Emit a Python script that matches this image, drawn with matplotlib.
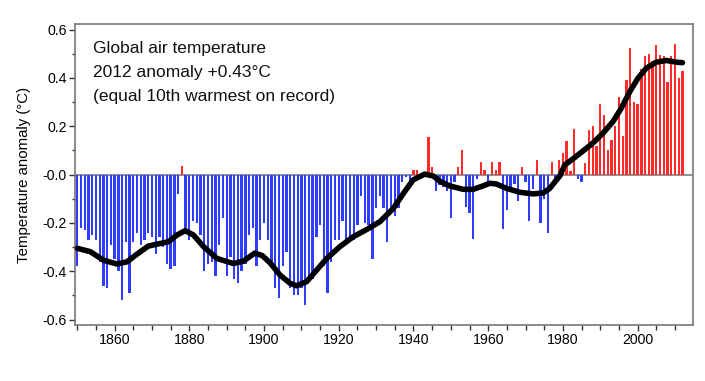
import numpy as np
import matplotlib
matplotlib.use('Agg')
import matplotlib.pyplot as plt
from matplotlib.ticker import MultipleLocator, FixedLocator

plt.rcParams['font.family'] = ['Liberation Sans', 'DejaVu Sans']

# annual anomalies, 1850-2012
years = np.arange(1850, 2013)
anomaly = [
    -0.38, -0.22, -0.23, -0.27, -0.25, -0.27, -0.36, -0.46, -0.47, -0.29,   # 1850s
    -0.35, -0.40, -0.52, -0.28, -0.49, -0.28, -0.24, -0.29, -0.27, -0.24,   # 1860s
    -0.26, -0.33, -0.26, -0.30, -0.37, -0.39, -0.38, -0.08, 0.035, -0.22,   # 1870s
    -0.27, -0.19, -0.20, -0.25, -0.40, -0.37, -0.36, -0.42, -0.29, -0.18,   # 1880s
    -0.42, -0.34, -0.43, -0.45, -0.40, -0.37, -0.25, -0.22, -0.38, -0.27,   # 1890s
    -0.20, -0.27, -0.38, -0.47, -0.51, -0.38, -0.32, -0.47, -0.50, -0.50,   # 1900s
    -0.47, -0.54, -0.43, -0.43, -0.26, -0.21, -0.38, -0.49, -0.36, -0.27,   # 1910s
    -0.27, -0.19, -0.28, -0.26, -0.27, -0.21, -0.09, -0.20, -0.21, -0.35,   # 1920s
    -0.14, -0.09, -0.14, -0.28, -0.14, -0.17, -0.14, -0.03, -0.01, -0.03,   # 1930s
    0.02, 0.02, -0.01, 0.005, 0.155, 0.03, -0.07, -0.045, -0.05, -0.07,     # 1940s
    -0.18, -0.03, 0.03, 0.10, -0.135, -0.16, -0.265, -0.02, 0.05, 0.02,     # 1950s
    -0.03, 0.05, 0.02, 0.05, -0.225, -0.145, -0.06, -0.04, -0.11, 0.03,     # 1960s
    -0.03, -0.19, -0.06, 0.06, -0.20, -0.10, -0.24, 0.05, -0.03, 0.06,      # 1970s
    0.09, 0.14, 0.014, 0.19, -0.02, -0.03, 0.047, 0.185, 0.20, 0.12,        # 1980s
    0.29, 0.245, 0.10, 0.145, 0.20, 0.32, 0.16, 0.39, 0.525, 0.30,          # 1990s
    0.29, 0.435, 0.49, 0.50, 0.47, 0.535, 0.495, 0.49, 0.385, 0.49,         # 2000s
    0.54, 0.40, 0.43,                                                       # 2010s
]

# smoothed curve
smooth_year = [1850, 1853.5, 1857, 1860.6, 1863.3, 1866, 1869, 1872.2, 1874.4,
               1876.7, 1878.9, 1881.1, 1883.8, 1887.4, 1891.8, 1894.5, 1897.5,
               1899.5, 1901.6, 1904.3, 1907, 1908.7, 1911.4, 1914.1, 1916.8,
               1920.3, 1923.9, 1927.5, 1931, 1934.6, 1937.3, 1939.9, 1943,
               1945.3, 1947, 1949.7, 1953.3, 1956, 1958.6, 1960.4, 1962.2,
               1964.9, 1968.4, 1972, 1974.7, 1976.5, 1977.6, 1979.2, 1980.5,
               1982.7, 1985.4, 1988, 1990.7, 1993.4, 1995.6, 1997.9, 2000.1,
               2002.3, 2005, 2007.7, 2010.3, 2012]
smooth_val = [-0.305, -0.319, -0.354, -0.370, -0.361, -0.329, -0.296, -0.285, -0.278,
              -0.250, -0.232, -0.250, -0.298, -0.347, -0.368, -0.358, -0.325,
              -0.335, -0.365, -0.416, -0.450, -0.460, -0.443, -0.395, -0.347,
              -0.298, -0.257, -0.227, -0.195, -0.140, -0.078, -0.022, 0.002,
              -0.006, -0.027, -0.047, -0.061, -0.061, -0.047, -0.036, -0.039,
              -0.057, -0.073, -0.080, -0.076, -0.057, -0.035, -0.005, 0.040,
              0.065, 0.098, 0.130, 0.171, 0.219, 0.274, 0.343, 0.399,
              0.440, 0.465, 0.472, 0.465, 0.463]

ytick_vals = [0.6, 0.4, 0.2, 0.0, -0.2, -0.4, -0.6]
ytick_labels = ['0.6', '0.4', '0.2', '-0.0', '-0.2', '-0.4', '-0.6']

info_lines = ['Global air temperature',
              '2012 anomaly +0.43\u00b0C',
              '(equal 10th warmest on record)']

anomaly = np.array(anomaly)
colors = np.where(anomaly >= 0, '#ff2b2b', '#2e3cff')

fig = plt.figure(figsize=(7.05, 3.81), dpi=100)
ax = fig.add_axes([0.1064, 0.1478, 0.877, 0.788])

ax.axhline(0, color='#888888', lw=1.3, zorder=1)
ax.bar(years, anomaly, width=0.62, color=colors, zorder=2)
ax.plot(smooth_year, smooth_val, color='black', lw=4, zorder=3,
        solid_joinstyle='round', solid_capstyle='round')

ax.set_xlim(1849.4, 2014.9)
ax.set_ylim(-0.621, 0.621)

ax.xaxis.set_major_locator(FixedLocator([1860, 1880, 1900, 1920, 1940, 1960, 1980, 2000]))
ax.xaxis.set_minor_locator(MultipleLocator(5))
ax.yaxis.set_major_locator(FixedLocator(ytick_vals))
ax.set_yticklabels(ytick_labels)
ax.yaxis.set_minor_locator(MultipleLocator(0.1))

ax.tick_params(which='major', direction='out', length=4, width=1, color='#333333',
               labelsize=10.2, pad=2)
ax.tick_params(which='minor', direction='out', length=3.5, width=1, color='#333333')
ax.tick_params(axis='y', which='minor', length=2.5)

for s in ax.spines.values():
    s.set_color('#777777')
    s.set_linewidth(1.2)

ax.set_ylabel('Temperature anomaly (\u00b0C)', fontsize=10.8, labelpad=8)

for i, line in enumerate(info_lines):
    ax.text(0.029, 0.921 - i * 0.081, line, transform=ax.transAxes,
            fontsize=12.5, va='center', ha='left', color='#111111')

fig.savefig('out.png', dpi=100)
